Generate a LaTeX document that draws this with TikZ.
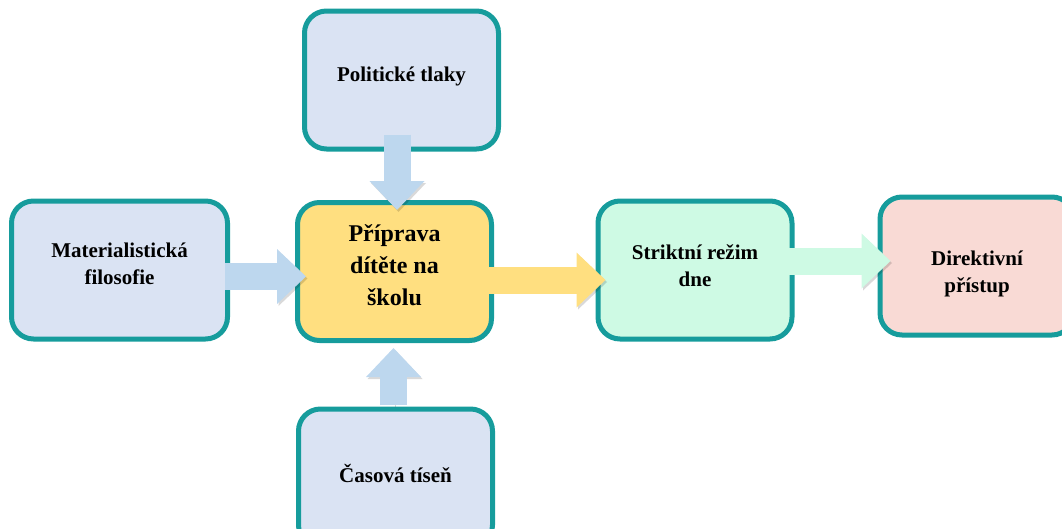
\documentclass[tikz,border=0pt]{standalone}
\usepackage{fontspec}
\setmainfont{Liberation Serif}
\usetikzlibrary{arrows.meta}
\definecolor{okraj}{HTML}{169C9C}
\definecolor{modra}{HTML}{DAE3F3}
\definecolor{modrasipka}{HTML}{BDD7EE}
\definecolor{zluta}{HTML}{FFDF80}
\definecolor{zelena}{HTML}{CEFAE4}
\definecolor{ruzova}{HTML}{F9DAD5}
\begin{document}
\begin{tikzpicture}[x=1pt,y=-1pt,
  box/.style={draw=okraj, line width=5pt, rounded corners=22pt, minimum width=194pt,
    minimum height=138pt, align=center, font=\fontsize{21}{27}\selectfont\bfseries},
  nahoru/.style={execute at end node={\rule[-#1]{0pt}{#1}}},
  sipka/.style={line width=27pt, -{Triangle[length=29pt,width=55pt,line width=0pt]},
    preaction={draw=black, opacity=0.15, transform canvas={shift={(1.5pt,-2pt)}}}}]
\useasboundingbox (0,0) rectangle (1062,528);
\clip (0,0) rectangle (1062,528);

\node[box, fill=modra, minimum width=216pt, nahoru=13pt] (mat) at (119.5,270) {Materialistická\\filosofie};
\node[box, fill=modra, nahoru=11pt] (pol) at (401.5,80) {Politické tlaky};
\node[box, fill=zluta, nahoru=12pt, font=\fontsize{24}{32}\selectfont\bfseries] (prip) at (394.5,271.5) {Příprava\\dítěte na\\školu};
\node[box, fill=modra, nahoru=10pt] (cas) at (395.5,478) {Časová tíseň};
\node[box, fill=zelena, nahoru=8pt] (rezim) at (695,270) {Striktní režim\\dne};
\node[box, fill=ruzova] (dir) at (977,266) {\rule{0pt}{30pt}Direktivní\\přístup};

\draw[sipka, modrasipka, shorten <=-5pt, shorten >=-11pt] ([yshift=-6.5pt]mat.east) -- ([yshift=-5pt]prip.west);
\draw[sipka, modrasipka, shorten <=-17pt, shorten >=-10pt] ([xshift=-4.5pt]pol.south) -- ([xshift=2.5pt]prip.north);
\draw[sipka, modrasipka, shorten <=1.5pt, shorten >=5pt] ([xshift=-2pt]cas.north) -- ([xshift=-1pt]prip.south);
\draw[sipka, zluta, shorten <=-8pt, shorten >=-10pt] ([yshift=-8.5pt]prip.east) -- ([yshift=-10pt]rezim.west);
\draw[sipka, zelena, shorten <=-10pt, shorten >=-13pt] ([yshift=9pt]rezim.east) -- ([yshift=5pt]dir.west);
\end{tikzpicture}
\end{document}
